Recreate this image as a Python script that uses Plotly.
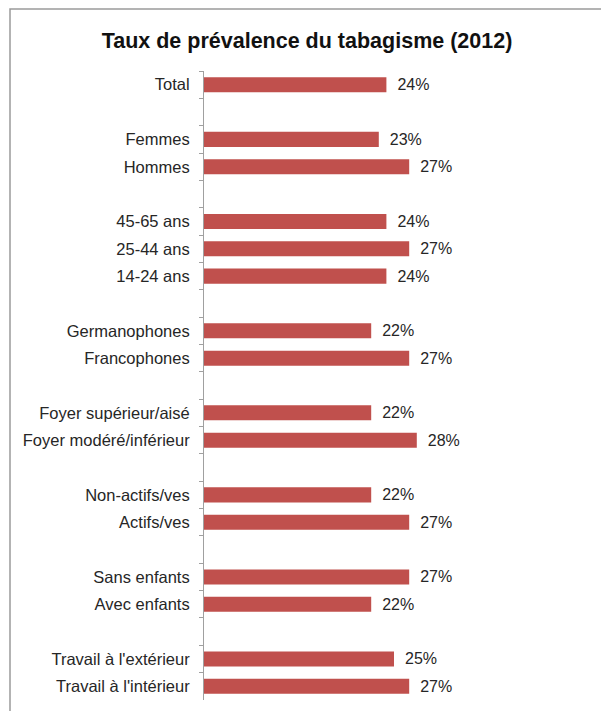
import plotly.graph_objects as go

title = "Taux de prévalence du tabagisme (2012)"
# groups of categories (top to bottom), separated by empty rows
groups = [
    ["Total"],
    ["Femmes", "Hommes"],
    ["45-65 ans", "25-44 ans", "14-24 ans"],
    ["Germanophones", "Francophones"],
    ["Foyer supérieur/aisé", "Foyer modéré/inférieur"],
    ["Non-actifs/ves", "Actifs/ves"],
    ["Sans enfants", "Avec enfants"],
    ["Travail à l'extérieur", "Travail à l'intérieur"],
]
values = [
    [24],
    [23, 27],
    [24, 27, 24],
    [22, 27],
    [22, 28],
    [22, 27],
    [27, 22],
    [25, 27],
]

cats, vals = [], []
for i, (g, v) in enumerate(zip(groups, values)):
    if i > 0:
        cats.append(" " * i)
        vals.append(None)
    cats.extend(g)
    vals.extend(v)

text = ["\u2002" + f"{v}%" if v is not None else "" for v in vals]

FONT = "Liberation Sans, Arial"

fig = go.Figure(go.Bar(
    x=vals, y=cats, orientation="h",
    marker=dict(color="#C0504D", line=dict(width=0)),
    width=0.55,
    text=text, textposition="outside", cliponaxis=False, constraintext="none",
    textfont=dict(family=FONT, size=16, color="#262626"),
))

fig.update_layout(
    width=601, height=711,
    margin=dict(l=204, r=21, t=71, b=11),
    paper_bgcolor="white", plot_bgcolor="white",
    showlegend=False,
    title=dict(text="<b>" + title + "</b>", x=307 / 601, xref="container", xanchor="center",
               y=1 - 40 / 711, yanchor="middle",
               font=dict(family=FONT, size=21.5, color="#111111")),
    xaxis=dict(range=[0, 376 / 7.6], visible=False, fixedrange=True),
    yaxis=dict(type="category", categoryorder="array", categoryarray=cats,
               autorange="reversed",
               showline=True, linecolor="#A0A0A0", linewidth=1,
               ticks="outside", ticklen=4, tickcolor="#A0A0A0", tickson="boundaries",
               showgrid=False, ticklabelstandoff=10,
               tickfont=dict(family=FONT, size=16.5, color="#262626")),
    shapes=[dict(type="rect", xref="paper", yref="paper",
                 x0=-194 / 376, x1=1.2, y0=-0.1, y1=1 + 62 / 629,
                 line=dict(color="#9A9A9A", width=1.5), fillcolor="rgba(0,0,0,0)", layer="below")],
)

fig.write_html("out.html")
